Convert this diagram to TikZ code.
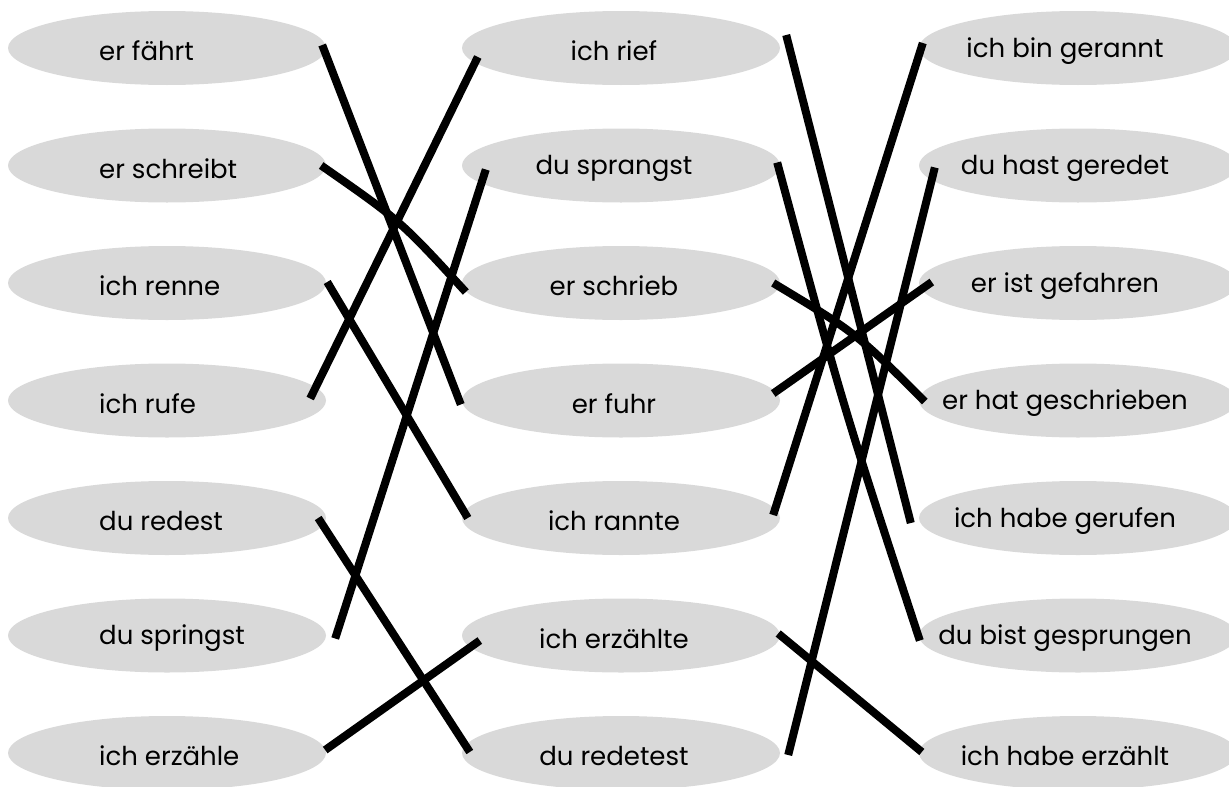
\documentclass[tikz,border=0pt]{standalone}
\usepackage{fontspec}
\setmainfont{Poppins}
\usetikzlibrary{shapes.geometric,calc}
\definecolor{ovalgray}{RGB}{217,217,217}
\tikzset{
  oval/.style={ellipse,fill=ovalgray,minimum width=318pt,minimum height=74pt,inner sep=0pt},
  word/.style={font=\fontsize{26}{30}\selectfont,inner sep=0pt,text=black},
  link/.style={line width=8pt,black}
}
\begin{document}
\begin{tikzpicture}[x=1pt,y=-1pt]
\useasboundingbox (0,0) rectangle (1229,787);
% columns
\foreach \i/\t in {1/er fährt,2/er schreibt,3/ich renne,4/ich rufe,5/du redest,6/du springst,7/ich erzähle}{
  \node[oval] (L\i) at (167,{48+117.5*(\i-1)}) {};
  \node[word,anchor=west] (Lt\i) at (99,{51+117.5*(\i-1)}) {\t};
}
\foreach \i/\t in {1/ich rief,2/du sprangst,3/er schrieb,4/er fuhr,5/ich rannte,6/ich erzählte,7/du redetest}{
  \node[oval] (M\i) at (621,{48+117.5*(\i-1)}) {};
  \node[word] (Mt\i) at (614,{51+117.5*(\i-1)}) {\t};
}
\foreach \i/\t in {1/ich bin gerannt,2/du hast geredet,3/er ist gefahren,4/er hat geschrieben,5/ich habe gerufen,6/du bist gesprungen,7/ich habe erzählt}{
  \node[oval] (R\i) at (1078,{48+117.5*(\i-1)}) {};
  \node[word] (Rt\i) at (1065,{51+117.5*(\i-1)}) {\t};
}
% left to middle
\draw[link] ($(L1.east)+(-4,-3)$) -- ($(M4.west)+(-1,4)$);
\draw[link] ($(L2.east)+(-5,0)$) .. controls ($(L2.east)+(74,55)$) .. ($(M3.west)+(4,9)$);
\draw[link] ($(L3.east)+(1,-1)$) -- ($(M5.west)+(6,0)$);
\draw[link] ($(L4.east)+(-16,-2)$) -- ($(M1.west)+(16,9)$);
\draw[link] ($(L5.east)+(-8,0)$) -- ($(M7.west)+(8,-1)$);
\draw[link] ($(L6.east)+(9,3)$) -- ($(M2.west)+(24,4)$);
\draw[link] ($(L7.east)+(-1,-3)$) -- ($(M6.west)+(18,5)$);
% middle to right
\draw[link] ($(M1.east)+(6,-13)$) -- ($(R5.west)+(-8,5)$);
\draw[link] ($(M2.east)+(-3,-3)$) .. controls ($(M2.east)+(62,238)$) .. ($(R6.west)+(1,5)$);
\draw[link] ($(M3.east)+(-7,0)$) .. controls ($(M3.east)+(76,50)$) .. ($(R4.west)+(6,1)$);
\draw[link] ($(M4.east)+(-7,-7)$) -- ($(R3.west)+(13,-1)$);
\draw[link] ($(M5.east)+(-7,-3)$) -- ($(R1.west)+(4,-5)$);
\draw[link] ($(M7.east)+(8,2)$) -- ($(R2.west)+(16,2)$);
\draw[link] ($(M6.east)+(-2,-2)$) -- ($(R7.west)+(3,-1)$);
\end{tikzpicture}
\end{document}
